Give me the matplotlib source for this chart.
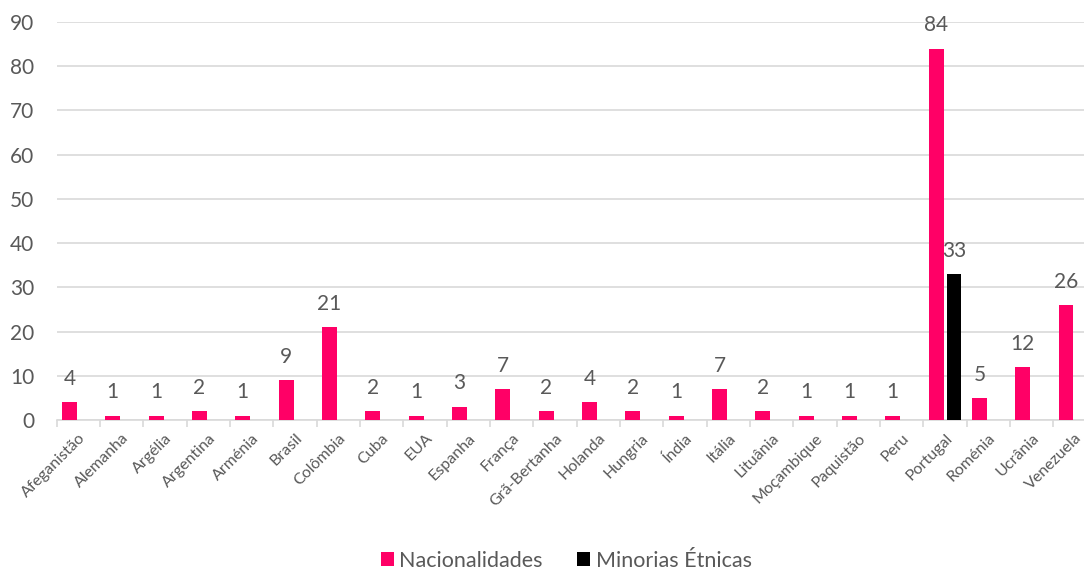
import numpy as np
import matplotlib
matplotlib.use("Agg")
import matplotlib.pyplot as plt

plt.rcParams["font.family"] = ["Lato", "DejaVu Sans"]

paises = ["Afeganistão", "Alemanha", "Argélia", "Argentina", "Arménia", "Brasil",
          "Colômbia", "Cuba", "EUA", "Espanha", "França", "Grã-Bertanha", "Holanda",
          "Hungria", "Índia", "Itália", "Lituânia", "Moçambique", "Paquistão", "Peru",
          "Portugal", "Roménia", "Ucrânia", "Venezuela"]
nacionalidades = [4, 1, 1, 2, 1, 9, 21, 2, 1, 3, 7, 2, 4, 2, 1, 7, 2, 1, 1, 1, 84, 5, 12, 26]
minorias = [0, 0, 0, 0, 0, 0, 0, 0, 0, 0, 0, 0, 0, 0, 0, 0, 0, 0, 0, 0, 33, 0, 0, 0]

pink = "#FF0066"
grey = "#595959"

fig = plt.figure(figsize=(10.84, 5.71), dpi=100)
# plot area runs a bit past the right edge, like the original (cropped) image
ax = fig.add_axes([0.0523, 0.2645, 0.9594, 0.697])

x = np.arange(len(paises))
w = 0.34
off = 0.205
b1 = ax.bar(x - off, nacionalidades, w, color=pink, label="Nacionalidades", zorder=3)
b2 = ax.bar(x + off, minorias, w, color="black", label="Minorias Étnicas", zorder=3)

# labels only for non-zero values
for bars, vals in [(b1, nacionalidades), (b2, minorias)]:
    for r, v in zip(bars, vals):
        if v > 0:
            ax.text(r.get_x() + r.get_width() / 2, v + 3.0, str(v), ha="center",
                    va="bottom", fontsize=15, color=grey)

ax.set_xlim(-0.5, len(paises) - 0.5)
ax.set_ylim(0, 90)
ax.set_yticks(range(0, 91, 10))
ax.yaxis.grid(True, color="#D9D9D9", linewidth=1.2, zorder=0)
ax.set_axisbelow(True)
for s in ["top", "right", "left"]:
    ax.spines[s].set_visible(False)
ax.spines["bottom"].set_color("#D9D9D9")
ax.spines["bottom"].set_linewidth(1.2)
ax.tick_params(axis="y", length=0, labelsize=15, labelcolor=grey, pad=16)
ax.set_xticks(x)
ax.set_xticklabels(paises, rotation=45, ha="right", rotation_mode="anchor",
                   fontsize=11.5, color=grey)
ax.tick_params(axis="x", length=0, pad=8)
ax.set_xticks(np.arange(-0.5, len(paises), 1), minor=True)
ax.tick_params(axis="x", which="minor", length=5, color="#D9D9D9", width=1.2)

ax.legend(loc="center", bbox_to_anchor=(0.49, -0.354), ncol=2, frameon=False,
          fontsize=15.5, labelcolor=grey, handlelength=0.6, handleheight=0.6,
          handletextpad=0.25, columnspacing=1.6, borderpad=0)

fig.savefig("out.png", dpi=100)
